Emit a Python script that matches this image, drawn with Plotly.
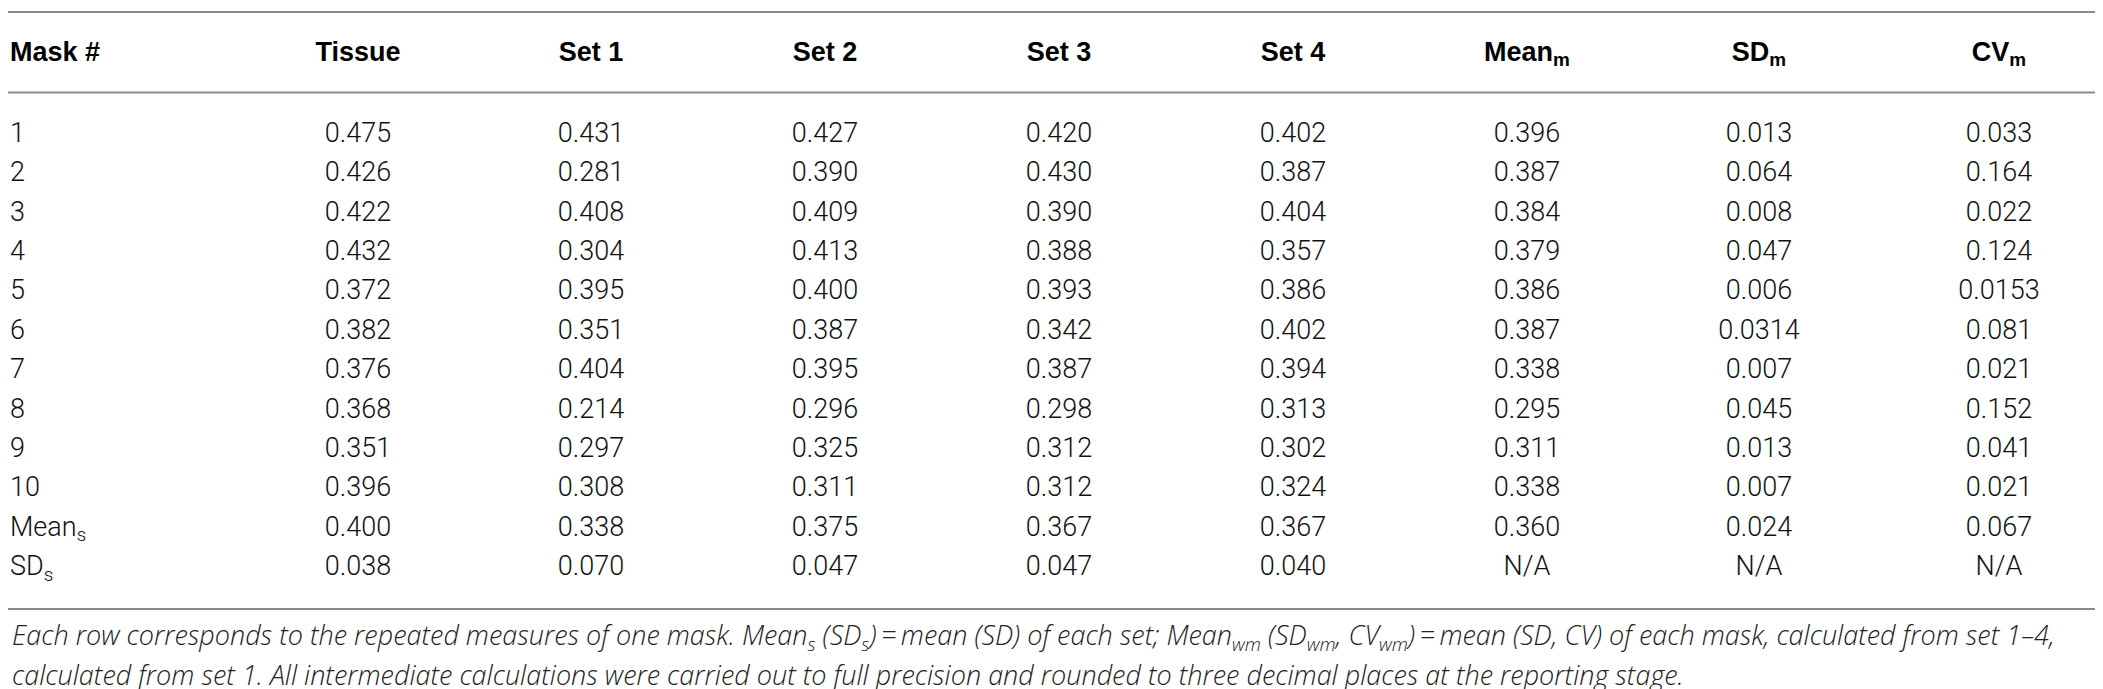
import plotly.graph_objects as go

# ---- data ----
headers = ["Mask #", "Tissue", "Set 1", "Set 2", "Set 3", "Set 4",
           "Mean<sub>m</sub>", "SD<sub>m</sub>", "CV<sub>m</sub>"]
mask = ["1", "2", "3", "4", "5", "6", "7", "8", "9", "10",
        "Mean<sub>s</sub>", "SD<sub>s</sub>"]
tissue = ["0.475", "0.426", "0.422", "0.432", "0.372", "0.382", "0.376", "0.368", "0.351", "0.396", "0.400", "0.038"]
set1 = ["0.431", "0.281", "0.408", "0.304", "0.395", "0.351", "0.404", "0.214", "0.297", "0.308", "0.338", "0.070"]
set2 = ["0.427", "0.390", "0.409", "0.413", "0.400", "0.387", "0.395", "0.296", "0.325", "0.311", "0.375", "0.047"]
set3 = ["0.420", "0.430", "0.390", "0.388", "0.393", "0.342", "0.387", "0.298", "0.312", "0.312", "0.367", "0.047"]
set4 = ["0.402", "0.387", "0.404", "0.357", "0.386", "0.402", "0.394", "0.313", "0.302", "0.324", "0.367", "0.040"]
mean_m = ["0.396", "0.387", "0.384", "0.379", "0.386", "0.387", "0.338", "0.295", "0.311", "0.338", "0.360", "N/A"]
sd_m = ["0.013", "0.064", "0.008", "0.047", "0.006", "0.0314", "0.007", "0.045", "0.013", "0.007", "0.024", "N/A"]
cv_m = ["0.033", "0.164", "0.022", "0.124", "0.0153", "0.081", "0.021", "0.152", "0.041", "0.021", "0.067", "N/A"]
caption = [
    "Each row corresponds to the repeated measures of one mask. Mean<sub>s</sub> (SD<sub>s</sub>)\u2009=\u2009mean (SD) of each set; "
    "Mean<sub>wm</sub> (SD<sub>wm</sub>, CV<sub>wm</sub>)\u2009=\u2009mean (SD, CV) of each mask, calculated from set 1\u20134,",
    "calculated from set 1. All intermediate calculations were carried out to full precision and rounded to three decimal places at the reporting stage.",
]

columns = [mask, tissue, set1, set2, set3, set4, mean_m, sd_m, cv_m]

# ---- layout / style ----
W, H = 2103, 689
col_x = [2, 350, 583, 817, 1051, 1285, 1519, 1751, 1991]
header_y = 46
row_y0, row_dy = 127, 39.4
line_color = "#8a8a8a"
body_font = dict(family="Roboto", size=27, color="#111111", weight=300)
head_font = dict(family="Liberation Sans", size=27, color="#000000", weight="bold")
cap_font = dict(family="Open Sans", size=27, color="#222222", weight=300, style="italic")

fig = go.Figure()

row_y = [row_y0 + i * row_dy for i in range(len(mask))]

for j, (cx, col) in enumerate(zip(col_x, columns)):
    fig.add_trace(go.Scatter(
        x=[cx] * len(col), y=row_y, text=col, mode="text",
        textposition="middle right" if j == 0 else "middle center",
        textfont=body_font, hoverinfo="skip", showlegend=False,
    ))

fig.add_trace(go.Scatter(
    x=col_x, y=[header_y] * len(headers), text=[f"<b>{h}</b>" for h in headers],
    mode="text",
    textposition=["middle right"] + ["middle center"] * (len(headers) - 1),
    textfont=head_font, hoverinfo="skip", showlegend=False,
))

for ly in [4, 84.5, 601]:
    fig.add_shape(type="line", xref="paper", x0=0, x1=1, yref="y", y0=ly, y1=ly,
                  line=dict(color=line_color, width=2))

for txt, cy in zip(caption, [628, 666]):
    fig.add_annotation(x=2, y=cy, xref="x", yref="y", text=txt,
                       showarrow=False, xanchor="left", yanchor="middle",
                       font=cap_font)

fig.update_layout(
    width=W, height=H, margin=dict(l=0, r=0, t=0, b=0),
    paper_bgcolor="white", plot_bgcolor="white",
    xaxis=dict(range=[0, W], visible=False, fixedrange=True),
    yaxis=dict(range=[H, 0], visible=False, fixedrange=True),
)

fig.write_html("out.html")
